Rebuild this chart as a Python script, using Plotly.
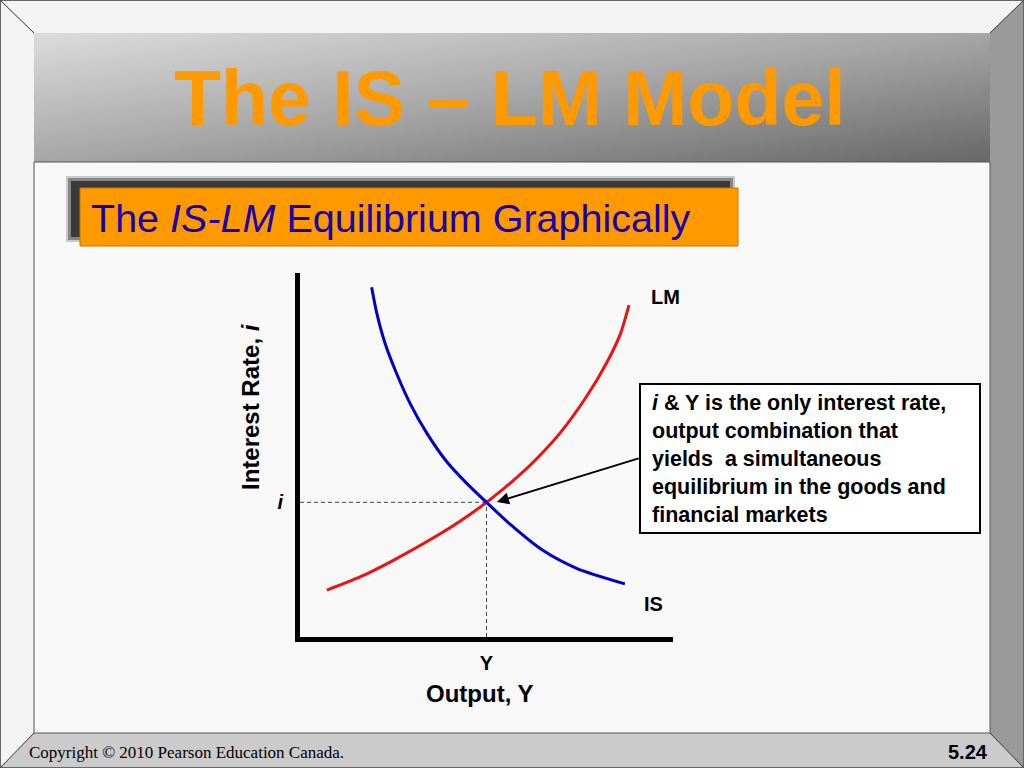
import base64
import plotly.graph_objects as go

# ---- data -------------------------------------------------------------
# IS curve: output vs interest rate (downward sloping)
is_output = [1.92, 2.06, 2.28, 2.59, 2.95, 3.40, 3.93, 4.47, 5.00, 5.63, 6.51,
             7.43, 8.71]
is_rate = [9.61, 8.89, 8.07, 7.24, 6.42, 5.60, 4.82, 4.22, 3.70, 3.10, 2.38,
           1.88, 1.46]

# LM curve: output vs interest rate (upward sloping)
lm_output = [0.72, 1.61, 2.49, 3.67, 4.29, 5.00, 5.63, 6.25, 6.97, 7.69, 8.23,
             8.58, 8.82]
lm_rate = [1.29, 1.65, 2.10, 2.78, 3.18, 3.70, 4.22, 4.80, 5.60, 6.62, 7.55,
           8.30, 9.12]

# equilibrium
y_eq = 5.0
i_eq = 3.7

x_ticks = [y_eq]
x_ticklabels = ["<b>Y</b>"]
y_ticks = [i_eq]
y_ticklabels = ["<b><i>i</i></b>"]

callout_lines = [
    "<i>i</i> & Y is the only interest rate,",
    "output combination that",
    "yields\u00a0 a simultaneous",
    "equilibrium in the goods and",
    "financial markets",
]

# ---- page geometry helpers (pixel -> paper) ---------------------------
W, H = 1024, 768


def px(x):
    return x / W


def py(y):
    return 1 - y / H


def poly(points, fill, line_color="rgba(0,0,0,0)", width=0, layer="below"):
    path = "M " + " L ".join(f"{px(x):.5f},{py(y):.5f}" for x, y in points) + " Z"
    return dict(type="path", xref="paper", yref="paper", path=path,
                fillcolor=fill, line=dict(color=line_color, width=width),
                layer=layer)


def rect(x0, y0, x1, y1, fill, line_color="rgba(0,0,0,0)", width=0,
         layer="below", opacity=1):
    return dict(type="rect", xref="paper", yref="paper",
                x0=px(x0), x1=px(x1), y0=py(y1), y1=py(y0),
                fillcolor=fill, line=dict(color=line_color, width=width),
                layer=layer, opacity=opacity)


def line(x0, y0, x1, y1, color, width=1, layer="above"):
    return dict(type="line", xref="paper", yref="paper",
                x0=px(x0), x1=px(x1), y0=py(y0), y1=py(y1),
                line=dict(color=color, width=width), layer=layer)


SANS = "Liberation Sans, Arial, sans-serif"
SERIF = "Liberation Serif, Times New Roman, serif"
ORANGE = "#FF9900"
BLUE_TXT = "#1800B0"

fig = go.Figure()

# dashed guides to the equilibrium point
fig.add_trace(go.Scatter(x=[0, y_eq], y=[i_eq, i_eq], mode="lines",
                         line=dict(color="#444444", width=1, dash="4px,3px"),
                         hoverinfo="skip", showlegend=False))
fig.add_trace(go.Scatter(x=[y_eq, y_eq], y=[0, i_eq], mode="lines",
                         line=dict(color="#444444", width=1, dash="4px,3px"),
                         hoverinfo="skip", showlegend=False))

# IS and LM curves
fig.add_trace(go.Scatter(x=lm_output, y=lm_rate, mode="lines", name="LM",
                         line=dict(color="#EE1111", width=3, shape="spline",
                                   smoothing=0.7),
                         showlegend=False))
fig.add_trace(go.Scatter(x=is_output, y=is_rate, mode="lines", name="IS",
                         line=dict(color="#0000CC", width=3, shape="spline",
                                   smoothing=0.7),
                         showlegend=False))

# ---- slide frame ------------------------------------------------------
shapes = [
    # bevels
    poly([(0, 0), (W, 0), (990, 33), (34, 33)], "#f3f3f3"),
    poly([(0, 0), (34, 33), (34, 733), (0, H)], "#f3f3f3"),
    poly([(W, 0), (W, H), (990, 733), (990, 33)], "#9a9a9a"),
    poly([(0, H), (34, 733), (990, 733), (W, H)], "#cbcbcb"),
    # corner creases
    line(0, 0, 34, 33, "#333333"),
    line(W, 0, 990, 33, "#333333"),
    line(0, H, 34, 733, "#333333"),
    line(W, H, 990, 733, "#333333"),
    # inner panel edge and outer border
    rect(34, 162, 990, 733, "rgba(0,0,0,0)", "#555555", 1, layer="above"),
    rect(0.5, 0.5, W - 0.5, H - 0.5, "rgba(0,0,0,0)", "#666666", 1,
         layer="above"),
    # subtitle shadow (soft edge) and orange banner
    rect(66, 176, 735, 242, "#404040", opacity=0.25),
    rect(68, 178, 733, 240, "#404040", opacity=0.5),
    rect(71, 181, 730, 237, "#3a3a3a"),
    rect(80, 188, 738, 246, ORANGE, "#C87800", 1),
    # callout box
    rect(640, 384, 980, 533, "#ffffff", "#000000", 2),
]

# title band gradient
svg = (
    "<svg xmlns='http://www.w3.org/2000/svg' width='958' height='129' "
    "preserveAspectRatio='none'><defs><linearGradient id='g' x1='0' y1='0' "
    "x2='1' y2='1'><stop offset='0' stop-color='#dcdcdc'/>"
    "<stop offset='0.5' stop-color='#a6a6a6'/>"
    "<stop offset='1' stop-color='#686868'/></linearGradient></defs>"
    "<rect width='958' height='129' fill='url(#g)'/></svg>"
)
band_src = "data:image/svg+xml;base64," + base64.b64encode(svg.encode()).decode()

annotations = [
    # slide title
    dict(text="<b>The IS \u2013 LM Model</b>", x=px(510), y=py(98),
         xref="paper", yref="paper", xanchor="center", yanchor="middle",
         showarrow=False, font=dict(family=SANS, size=77, color=ORANGE)),
    # banner text
    dict(text="The <i>IS-LM</i> Equilibrium Graphically", x=px(89), y=py(218),
         xref="paper", yref="paper", xanchor="left", yanchor="middle",
         showarrow=False, font=dict(family=SANS, size=39.5, color=BLUE_TXT)),
    # axis titles
    dict(text="<b>Interest Rate, <i>i</i></b>", x=px(250), y=py(407),
         xref="paper", yref="paper", xanchor="center", yanchor="middle",
         textangle=-90, showarrow=False,
         font=dict(family=SANS, size=24, color="black")),
    dict(text="<b>Output, Y</b>", x=px(480), y=py(693),
         xref="paper", yref="paper", xanchor="center", yanchor="middle",
         showarrow=False, font=dict(family=SANS, size=24, color="black")),
    # curve labels
    dict(text="<b>LM</b>", x=9.81, y=9.34, xref="x", yref="y",
         xanchor="center", yanchor="middle", showarrow=False,
         font=dict(family=SANS, size=20, color="black")),
    dict(text="<b>IS</b>", x=9.49, y=0.91, xref="x", yref="y",
         xanchor="center", yanchor="middle", showarrow=False,
         font=dict(family=SANS, size=20, color="black")),
    # callout text
    dict(text="<b>" + "<br>".join(callout_lines) + "</b>", x=px(650), y=py(459),
         xref="paper", yref="paper", xanchor="left", yanchor="middle",
         align="left", showarrow=False,
         font=dict(family=SANS, size=21.5, color="black")),
    # arrow from callout to the equilibrium
    dict(text="", x=5.28, y=3.71, xref="x", yref="y",
         ax=9.12, ay=4.92, axref="x", ayref="y",
         showarrow=True, arrowhead=2, arrowsize=1.2, arrowwidth=2,
         arrowcolor="black"),
    # footer
    dict(text="Copyright \u00a9 2010 Pearson Education Canada.", x=px(27),
         y=py(752), xref="paper", yref="paper", xanchor="left",
         yanchor="middle", showarrow=False,
         font=dict(family=SERIF, size=17, color="black")),
    dict(text="<b>5.24</b>", x=px(990), y=py(752), xref="paper",
         yref="paper", xanchor="right", yanchor="middle", showarrow=False,
         font=dict(family=SANS, size=20, color="black")),
]

fig.update_layout(
    width=W, height=H,
    margin=dict(l=0, r=0, t=0, b=0),
    paper_bgcolor="#f8f8f8",
    plot_bgcolor="rgba(0,0,0,0)",
    shapes=shapes,
    annotations=annotations,
    images=[dict(source=band_src, xref="paper", yref="paper",
                 x=px(32), y=py(33), sizex=958 / W, sizey=129 / H,
                 xanchor="left", yanchor="top", sizing="stretch",
                 layer="below")],
    xaxis=dict(domain=[px(300), px(673)], range=[0, 10],
               showline=True, linewidth=5, linecolor="black",
               showgrid=False, zeroline=False, ticks="",
               tickvals=x_ticks, ticktext=x_ticklabels,
               tickfont=dict(family=SANS, size=20, color="black"),
               ticklabelstandoff=4, fixedrange=True),
    yaxis=dict(domain=[py(637), py(273)], range=[0, 10],
               showline=True, linewidth=5, linecolor="black",
               showgrid=False, zeroline=False, ticks="",
               tickvals=y_ticks, ticktext=y_ticklabels,
               tickfont=dict(family=SANS, size=20, color="black"),
               ticklabelstandoff=8, fixedrange=True),
    showlegend=False,
)

fig.write_html("out.html")
